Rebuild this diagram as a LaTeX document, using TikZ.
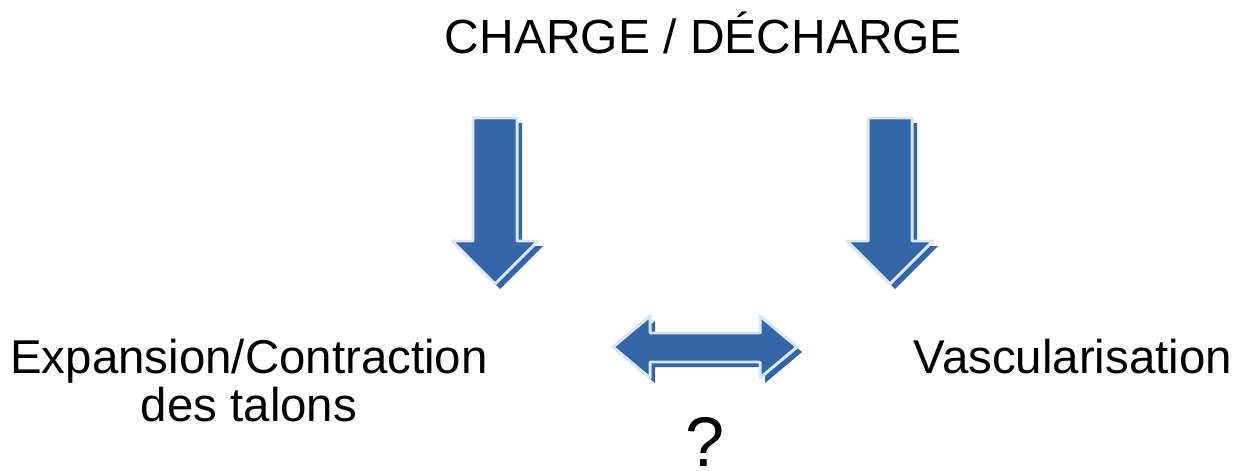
\documentclass[tikz,border=0pt]{standalone}
\usepackage{fontspec}
\setmainfont{Liberation Sans}
\definecolor{arrowblue}{RGB}{51,102,166}
\definecolor{arrowedge}{RGB}{220,230,242}
\tikzset{
  lbl/.style={anchor=base, inner sep=0pt, font=\fontsize{27pt}{32pt}\selectfont},
  blk/.style={fill=arrowblue, draw=arrowedge, line width=1.7pt, line join=round},
  shad/.style={fill=arrowblue, draw=none},
}
\begin{document}
\begin{tikzpicture}[x=0.02cm,y=-0.02cm]
\useasboundingbox (0,0) rectangle (1237,470);
% down arrows
\foreach \cx in {495,890}{
  \fill[shad, shift={(5,5)}] (\cx-22,118) -- (\cx+22,118) -- (\cx+22,241) -- (\cx+43,241) -- (\cx,284) -- (\cx-43,241) -- (\cx-22,241) -- cycle;
  \path[blk] (\cx-22,118) -- (\cx+22,118) -- (\cx+22,241) -- (\cx+43,241) -- (\cx,284) -- (\cx-43,241) -- (\cx-22,241) -- cycle;
}
% double arrow
\fill[shad, shift={(5,5)}] (613,347) -- (650,316) -- (650,333) -- (760,333) -- (760,316) -- (797,347) -- (760,378) -- (760,362) -- (650,362) -- (650,378) -- cycle;
\path[blk] (613,347) -- (650,316) -- (650,333) -- (760,333) -- (760,316) -- (797,347) -- (760,378) -- (760,362) -- (650,362) -- (650,378) -- cycle;
% texts
\node[lbl, font=\fontsize{27.3pt}{32pt}\selectfont] (title) at (703.5,53) {CHARGE / DÉCHARGE};
\node[lbl] (exp) at (249,373) {Expansion/Contraction};
\node[lbl] (talons) at (249,421) {des talons};
\node[lbl] (vasc) at (1073,373) {Vascularisation};
\node[lbl, text depth=0pt, font=\fontsize{40pt}{44pt}\selectfont] (q) at (705.5,466) {?};
\end{tikzpicture}
\end{document}
